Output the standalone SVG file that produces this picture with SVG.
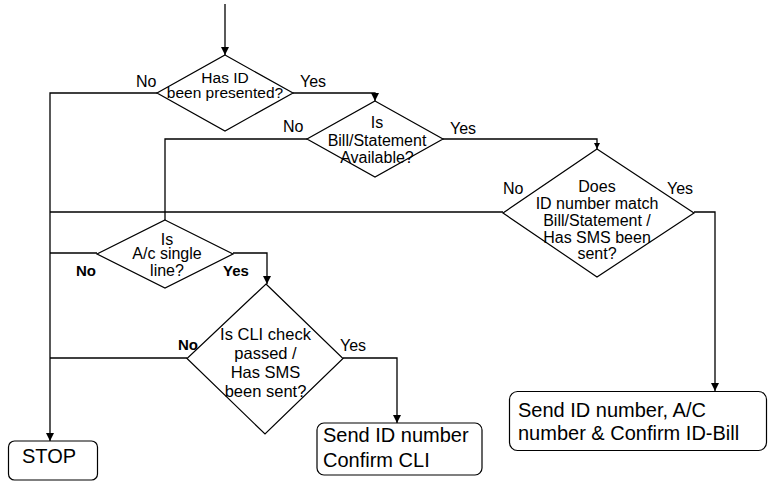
<svg xmlns="http://www.w3.org/2000/svg" width="769" height="483" viewBox="0 0 769 483">
<defs>
<marker id="arr" viewBox="0 0 10 10" refX="10" refY="5" markerWidth="8" markerHeight="8" markerUnits="userSpaceOnUse" orient="auto"><path d="M0,0 L10,5 L0,10 Z" fill="#000"/></marker>
<marker id="arrs" viewBox="0 0 10 10" refX="10" refY="5" markerWidth="6" markerHeight="6" markerUnits="userSpaceOnUse" orient="auto"><path d="M0,0 L10,5 L0,10 Z" fill="#000"/></marker>
</defs>
<style>
.shape{fill:#fff;stroke:#000;stroke-width:1.2}
.box{fill:#fff;stroke:#000;stroke-width:1.2}
.conn{fill:none;stroke:#000;stroke-width:1.3}
text{font-family:"Liberation Sans",Arial,sans-serif;fill:#000}
.dt{font-size:16px;text-anchor:middle}
.lbl{font-size:16px}
.b{font-weight:bold;font-size:15px}
.bt{font-size:20px}
</style>
<g id="connectors">
<path class="conn" d="M225,4 V55" marker-end="url(#arr)"/>
<path class="conn" d="M157,93 H50 V441" marker-end="url(#arr)"/>
<path class="conn" d="M293,93 H375 V101" marker-end="url(#arr)"/>
<path class="conn" d="M307,139 H165 V220"/>
<path class="conn" d="M443,139 H597 V149" marker-end="url(#arrs)"/>
<path class="conn" d="M503,212 H50"/>
<path class="conn" d="M694,212 H715 V391" marker-end="url(#arr)"/>
<path class="conn" d="M97,253 H50"/>
<path class="conn" d="M233,253 H267 V284" marker-end="url(#arr)"/>
<path class="conn" d="M187,358 H50"/>
<path class="conn" d="M343,358 H397 V423" marker-end="url(#arr)"/>
</g>
<g id="d1">
<polygon class="shape" points="225,55 293,93 225,131 157,93"/>
<text class="dt" style="font-size:15.5px" x="225" y="83.3">Has ID</text>
<text class="dt" style="font-size:15.5px" x="225" y="97.7">been presented?</text>
<text class="lbl" x="136" y="87.3">No</text>
<text class="lbl" x="300" y="87.3">Yes</text>
</g>
<g id="d2">
<polygon class="shape" points="375,101 443,139 375,177 307,139"/>
<text class="dt" x="377" y="128.3">Is</text>
<text class="dt" x="377" y="145.7">Bill/Statement</text>
<text class="dt" x="377" y="163.3">Available?</text>
<text class="lbl" x="283" y="132.3">No</text>
<text class="lbl" x="450" y="134">Yes</text>
</g>
<g id="d3">
<polygon class="shape" points="597,149 694,213 597,277 503,213"/>
<text class="dt" x="597" y="191.7">Does</text>
<text class="dt" x="597" y="209">ID number match</text>
<text class="dt" x="597" y="225.5">Bill/Statement /</text>
<text class="dt" x="597" y="242.7">Has SMS been</text>
<text class="dt" x="597" y="259.3">sent?</text>
<text class="lbl" x="503" y="194">No</text>
<text class="lbl" x="667" y="194">Yes</text>
</g>
<g id="d4">
<polygon class="shape" points="165,220 233,254 165,288 97,254"/>
<text class="dt" x="167" y="245">Is</text>
<text class="dt" x="167" y="259.3">A/c single</text>
<text class="dt" x="167" y="276">line?</text>
<text class="b" x="76" y="276">No</text>
<text class="b" x="223" y="276">Yes</text>
</g>
<g id="d5">
<polygon class="shape" points="266,284 343,358.5 265,434 187,358.5"/>
<text class="dt" style="font-size:16.5px" x="265.5" y="340">Is CLI check</text>
<text class="dt" style="font-size:16.5px" x="265.5" y="359.3">passed /</text>
<text class="dt" style="font-size:16.5px" x="265.5" y="378.3">Has SMS</text>
<text class="dt" style="font-size:16.5px" x="265.5" y="397.3">been sent?</text>
<text class="b" x="178" y="350">No</text>
<text class="lbl" x="340" y="350.5">Yes</text>
</g>
<g id="stop">
<rect class="box" x="8.5" y="441" width="89" height="39" rx="6"/>
<text class="bt" x="22" y="463.3">STOP</text>
</g>
<g id="confirm-cli">
<rect class="box" x="317" y="423" width="165" height="52" rx="7"/>
<text class="bt" x="323" y="441.7">Send ID number</text>
<text class="bt" x="323" y="467.3">Confirm CLI</text>
</g>
<g id="confirm-bill">
<rect class="box" x="509.5" y="391.5" width="257" height="59" rx="8"/>
<text class="bt" x="518" y="416.7">Send ID number, A/C</text>
<text class="bt" x="518" y="440">number &amp; Confirm ID-Bill</text>
</g>
</svg>
